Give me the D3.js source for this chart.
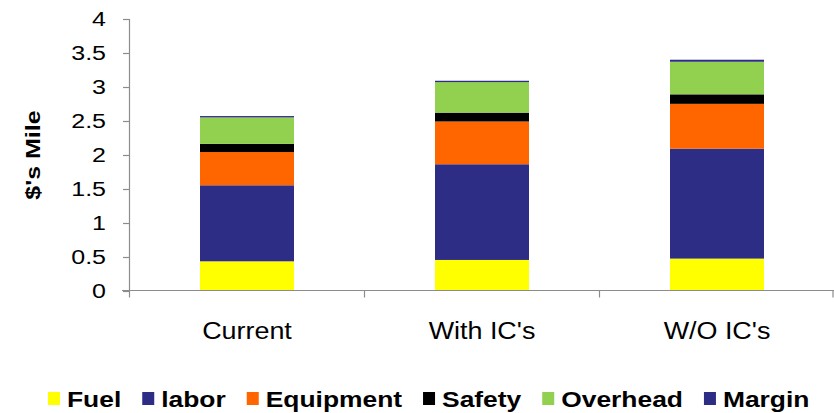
<!DOCTYPE html>
<html>
<head>
<meta charset="utf-8">
<script src="https://cdn.jsdelivr.net/npm/d3@7"></script>
<style>
  html, body { margin: 0; padding: 0; background: #fff; }
  svg { display: block; }
  text { font-family: "Liberation Sans", Arial, sans-serif; fill: #000; }
</style>
</head>
<body>
<svg id="chart" width="834" height="413"></svg>
<script>
// Cost per mile, by scenario
const categories = ["Current", "With IC's", "W/O IC's"];
const seriesNames = ["Fuel", "labor", "Equipment", "Safety", "Overhead", "Margin"];
const fuel      = [0.43, 0.45, 0.47];
const labor     = [1.12, 1.41, 1.62];
const equipment = [0.49, 0.63, 0.66];
const safety    = [0.12, 0.13, 0.14];
const overhead  = [0.39, 0.45, 0.48];
const margin    = [0.02, 0.02, 0.03];
const yTicks = [0, 0.5, 1, 1.5, 2, 2.5, 3, 3.5, 4];
const colors = ["#FFFF00", "#2E2D86", "#FF6600", "#000000", "#92D050", "#2E2D86"];

const seriesValues = [fuel, labor, equipment, safety, overhead, margin];
const rows = categories.map((c, i) => {
  const r = { category: c };
  seriesNames.forEach((s, j) => { r[s] = seriesValues[j][i]; });
  return r;
});

const svg = d3.select("#chart");
const axisColor = "#8C8C8C";

const x = d3.scaleBand().domain(categories).range([129.5, 834.5])
  .paddingInner(0.6).paddingOuter(0.3);
const y = d3.scaleLinear().domain([0, 4]).range([290.5, 19]);
const color = d3.scaleOrdinal().domain(seriesNames).range(colors);

const stacked = d3.stack().keys(seriesNames)(rows);

// stacked bars
svg.append("g").selectAll("g").data(stacked).join("g")
  .attr("fill", d => color(d.key))
  .selectAll("rect").data(d => d).join("rect")
  .attr("x", d => x(d.data.category))
  .attr("width", x.bandwidth())
  .attr("y", d => y(d[1]))
  .attr("height", d => y(d[0]) - y(d[1]));

// y axis
const yAxis = svg.append("g");
yAxis.append("line")
  .attr("x1", 129.5).attr("x2", 129.5)
  .attr("y1", y(4)).attr("y2", y(0))
  .attr("stroke", axisColor).attr("stroke-width", 1.2);
yAxis.selectAll("line.tick").data(yTicks).join("line")
  .attr("class", "tick")
  .attr("x1", 123).attr("x2", 129.5)
  .attr("y1", d => Math.round(y(d)) + 0.5).attr("y2", d => Math.round(y(d)) + 0.5)
  .attr("stroke", axisColor).attr("stroke-width", 1.2);
yAxis.selectAll("text").data(yTicks).join("text")
  .attr("text-anchor", "end")
  .attr("font-size", 20)
  .attr("transform", d => `translate(106,${y(d) + 7}) scale(1.25,1)`)
  .text(d => d3.format("")(d));

// x axis
const step = x.step();
const half = (step - x.bandwidth()) / 2;
const bounds = categories.map(c => x(c) - half).concat([x(categories[2]) + x.bandwidth() + half]);
const xAxis = svg.append("g");
xAxis.append("line")
  .attr("x1", 122).attr("x2", 834)
  .attr("y1", y(0)).attr("y2", y(0))
  .attr("stroke", axisColor).attr("stroke-width", 1.2);
xAxis.selectAll("line.tick").data(bounds).join("line")
  .attr("class", "tick")
  .attr("x1", d => Math.min(d, 833)).attr("x2", d => Math.min(d, 833))
  .attr("y1", y(0)).attr("y2", y(0) + 7)
  .attr("stroke", axisColor).attr("stroke-width", 1.2);
xAxis.selectAll("text").data(categories).join("text")
  .attr("text-anchor", "middle")
  .attr("font-size", 23)
  .attr("transform", d => `translate(${x(d) + x.bandwidth() / 2},339) scale(1.17,1)`)
  .text(d => d);

// y axis title
svg.append("text")
  .attr("text-anchor", "middle")
  .attr("font-size", 20)
  .attr("font-weight", "bold")
  .attr("transform", "translate(39.5,155) rotate(-90) scale(1.25,1)")
  .text("$'s Mile");

// legend
const legend = svg.append("g");
let lx = 48;
seriesNames.forEach((s, i) => {
  legend.append("rect")
    .attr("x", lx).attr("y", 392)
    .attr("width", 12).attr("height", 13)
    .attr("fill", color(s));
  const t = legend.append("text")
    .attr("font-size", 22)
    .attr("font-weight", "bold")
    .attr("transform", `translate(${lx + 19},406.5) scale(1.2,1)`)
    .text(s);
  const w = t.node().getComputedTextLength() * 1.2;
  lx += 19 + w + 21;
});
</script>
</body>
</html>
